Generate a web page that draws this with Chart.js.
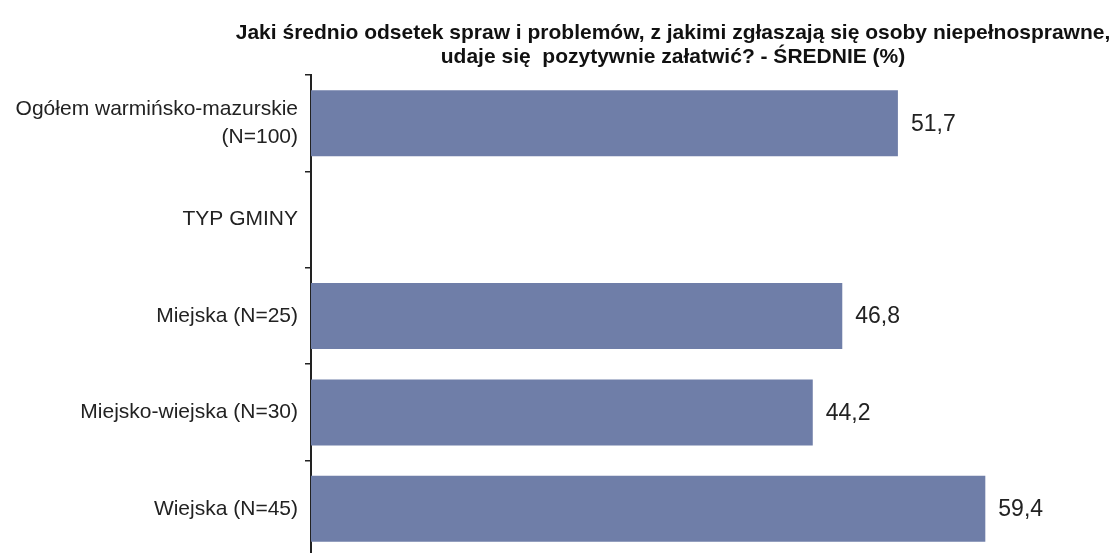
<!DOCTYPE html>
<html>
<head>
<meta charset="utf-8">
<script src="https://cdn.jsdelivr.net/npm/chart.js@4"></script>
<style>
  html, body { margin: 0; padding: 0; background: #fff; overflow: hidden; height: 553px; }
  /* the original's last category runs a few pixels past the bottom edge */
  #wrap { width: 1117px; height: 557px; }
</style>
</head>
<body>
<div id="wrap"><canvas id="srednie"></canvas></div>
<script>
// categories and values
const categories = [
  ["Ogółem warmińsko-mazurskie", "(N=100)"],
  "TYP GMINY",
  "Miejska (N=25)",
  "Miejsko-wiejska (N=30)",
  "Wiejska (N=45)"
];
const averages = [51.7, null, 46.8, 44.2, 59.4];
const titleLines = [
  "Jaki średnio odsetek spraw i problemów, z jakimi zgłaszają się osoby niepełnosprawne,",
  "udaje się  pozytywnie załatwić? - ŚREDNIE (%)"
];

// title drawn where it sits in the original (centred over the bars, not the page)
const titlePlugin = {
  id: 'titleText',
  afterDraw(chart) {
    const c = chart.ctx;
    c.save();
    c.fillStyle = '#111';
    c.font = 'bold 21px "Liberation Sans", Arial, sans-serif';
    c.textAlign = 'center';
    c.textBaseline = 'middle';
    c.fillText(titleLines[0], 673, 33);
    c.fillText(titleLines[1], 673, 57);
    c.restore();
  }
};

// numbers at the end of each bar, comma as decimal mark
const valueLabels = {
  id: 'valueLabels',
  afterDatasetsDraw(chart) {
    const c = chart.ctx;
    const meta = chart.getDatasetMeta(0);
    c.save();
    c.fillStyle = '#222';
    c.font = '23px "Liberation Sans", Arial, sans-serif';
    c.textAlign = 'left';
    c.textBaseline = 'middle';
    meta.data.forEach((bar, i) => {
      const v = averages[i];
      if (v == null) return;
      c.fillText(v.toFixed(1).replace('.', ','), bar.x + 13, bar.y + 1);
    });
    c.restore();
  }
};

new Chart(document.getElementById('srednie'), {
  type: 'bar',
  data: {
    labels: categories,
    datasets: [{
      data: averages,
      backgroundColor: '#6f7ea8',
      borderWidth: 0,
      barPercentage: 0.685,
      categoryPercentage: 1
    }]
  },
  options: {
    indexAxis: 'y',
    responsive: true,
    maintainAspectRatio: false,
    animation: false,
    layout: { padding: { top: 75, right: 0, bottom: 0, left: 0 } },
    plugins: {
      legend: { display: false },
      tooltip: { enabled: false },
      title: { display: false }
    },
    scales: {
      x: {
        display: false,
        min: 0,
        max: 71
      },
      y: {
        afterFit(scale) {
          scale.width = 311;
          scale.paddingTop = 0;
          scale.paddingBottom = 0;
        },
        grid: {
          offset: true,
          drawOnChartArea: false,
          drawTicks: true,
          tickLength: 6,
          color: '#222',
          lineWidth: 1.5
        },
        border: { display: true, color: '#222', width: 2 },
        ticks: {
          padding: 7,
          color: '#222',
          font: { family: '"Liberation Sans", Arial, sans-serif', size: 21, lineHeight: 1.29 }
        }
      }
    }
  },
  plugins: [titlePlugin, valueLabels]
});
</script>
</body>
</html>
